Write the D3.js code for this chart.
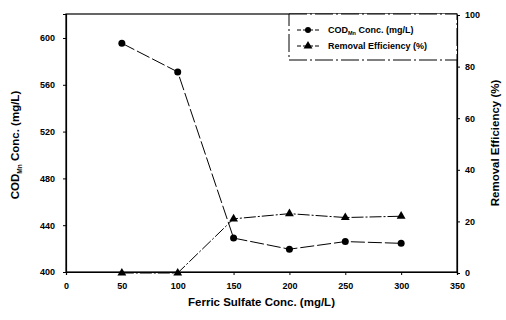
<!DOCTYPE html>
<html>
<head>
<meta charset="utf-8">
<script src="https://cdn.jsdelivr.net/npm/d3@7"></script>
<style>
  html, body { margin: 0; padding: 0; background: #fff; }
  svg text { font-family: Arial, "Liberation Sans", sans-serif; fill: #000; }
</style>
</head>
<body>
<svg id="chart" width="506" height="320"></svg>
<script>
// Ferric sulfate dose (mg/L)
const doses = [50, 100, 150, 200, 250, 300];
// COD_Mn concentration (mg/L)
const codValues = [595.5, 571, 429, 419.5, 426, 424.5];
// Removal efficiency (%)
const removalValues = [0, 0, 21, 23, 21.5, 22];

const xTicks = [0, 50, 100, 150, 200, 250, 300, 350];
const leftTicks = [400, 440, 480, 520, 560, 600];
const rightTicks = [0, 20, 40, 60, 80, 100];

const svg = d3.select("#chart");
const m = { left: 66, right: 457, top: 14, bottom: 272 };

const x = d3.scaleLinear().domain([0, 350]).range([m.left, m.right]);
const yL = d3.scaleLinear().domain([400, 620.5]).range([m.bottom, m.top]);
const yR = d3.scaleLinear().domain([0, 100]).range([273, 15]);

// frame
svg.append("rect")
  .attr("x", m.left).attr("y", m.top)
  .attr("width", m.right - m.left).attr("height", m.bottom - m.top)
  .attr("fill", "none").attr("stroke", "#000").attr("stroke-width", 1.2);

function styleAxis(g) {
  g.select(".domain").attr("stroke", "#000").attr("stroke-width", 1.2);
  g.selectAll(".tick line").attr("stroke", "#000");
  g.selectAll(".tick text").attr("font-size", 9).attr("font-weight", "bold")
    .style("font-family", "Arial, 'Liberation Sans', sans-serif");
}

svg.append("g")
  .attr("transform", `translate(0,${m.bottom})`)
  .call(d3.axisBottom(x).tickValues(xTicks).tickSize(3).tickPadding(8))
  .call(styleAxis);

svg.append("g")
  .attr("transform", `translate(${m.left},0)`)
  .call(d3.axisLeft(yL).tickValues(leftTicks).tickSize(3).tickPadding(8))
  .call(styleAxis);

svg.append("g")
  .attr("transform", `translate(${m.right},0)`)
  .call(d3.axisRight(yR).tickValues(rightTicks).tickSize(3).tickPadding(5))
  .call(styleAxis);

// axis titles
svg.append("text")
  .attr("x", (m.left + m.right) / 2).attr("y", 306)
  .attr("text-anchor", "middle").attr("font-size", 11.5).attr("font-weight", "bold")
  .text("Ferric Sulfate Conc. (mg/L)");

const lt = svg.append("text")
  .attr("transform", `translate(19,${(m.top + m.bottom) / 2 + 2}) rotate(-90)`)
  .attr("text-anchor", "middle").attr("font-size", 11.5).attr("font-weight", "bold");
lt.append("tspan").text("COD");
lt.append("tspan").attr("font-size", 6.5).attr("dy", 3).text("Mn");
lt.append("tspan").attr("dy", -3).text(" Conc. (mg/L)");

svg.append("text")
  .attr("transform", `translate(499,${(m.top + m.bottom) / 2}) rotate(-90)`)
  .attr("text-anchor", "middle").attr("font-size", 11.5).attr("font-weight", "bold")
  .text("Removal Efficiency (%)");

// series
const codLine = d3.line().x((d, i) => x(doses[i])).y(d => yL(d));
const remLine = d3.line().x((d, i) => x(doses[i])).y(d => yR(d));

svg.append("path").datum(codValues)
  .attr("d", codLine).attr("fill", "none").attr("stroke", "#000")
  .attr("stroke-width", 1).attr("stroke-dasharray", "14,3");

svg.append("path").datum(removalValues)
  .attr("d", remLine).attr("fill", "none").attr("stroke", "#000")
  .attr("stroke-width", 1).attr("stroke-dasharray", "12,2,2,2");

svg.append("g").selectAll("circle").data(codValues).join("circle")
  .attr("cx", (d, i) => x(doses[i])).attr("cy", d => yL(d))
  .attr("r", 3.5).attr("fill", "#000");

const tri = d3.symbol().type(d3.symbolTriangle).size(34);
svg.append("g").selectAll("path").data(removalValues).join("path")
  .attr("d", tri)
  .attr("transform", (d, i) => `translate(${x(doses[i])},${yR(d)})`)
  .attr("fill", "#000");

// legend
const lg = svg.append("g");
lg.append("rect").attr("x", 289).attr("y", m.top).attr("width", m.right - 289).attr("height", 46)
  .attr("fill", "#fff").attr("stroke", "#000").attr("stroke-width", 1)
  .attr("stroke-dasharray", "18,3,2,3");

const legendItems = [
  { y: 30, kind: "circle" },
  { y: 46, kind: "triangle" }
];
legendItems.forEach(it => {
  lg.append("line").attr("x1", 297).attr("x2", 319).attr("y1", it.y).attr("y2", it.y)
    .attr("stroke", "#000").attr("stroke-width", 1).attr("stroke-dasharray", "4,2");
  if (it.kind === "circle") {
    lg.append("circle").attr("cx", 308).attr("cy", it.y).attr("r", 3).attr("fill", "#000");
  } else {
    lg.append("path").attr("d", tri).attr("transform", `translate(308,${it.y})`).attr("fill", "#000");
  }
});
const l1 = lg.append("text").attr("x", 328).attr("y", 33).attr("font-size", 9).attr("font-weight", "bold");
l1.append("tspan").text("COD");
l1.append("tspan").attr("font-size", 5.5).attr("dy", 2).text("Mn");
l1.append("tspan").attr("dy", -2).text(" Conc. (mg/L)");
lg.append("text").attr("x", 328).attr("y", 49).attr("font-size", 9).attr("font-weight", "bold")
  .text("Removal Efficiency (%)");
</script>
</body>
</html>
